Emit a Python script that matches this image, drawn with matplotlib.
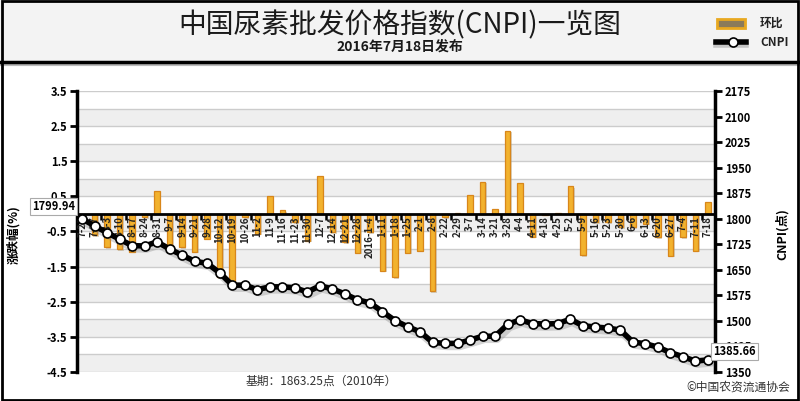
import numpy as np
import matplotlib
matplotlib.use('Agg')
import matplotlib.pyplot as plt
from matplotlib.patches import Rectangle
from matplotlib.lines import Line2D
import matplotlib.transforms as mtransforms

plt.rcParams['font.family'] = ['Noto Sans CJK SC', 'DejaVu Sans']

# 日期标签(周)
dates = ['7-20', '7-27', '8-3', '8-10', '8-17', '8-24', '8-31', '9-7', '9-14', '9-21',
         '9-28', '10-12', '10-19', '10-26', '11-2', '11-9', '11-16', '11-23', '11-30', '12-7',
         '12-14', '12-21', '12-28', '2016-1-4', '1-11', '1-18', '1-25', '2-1', '2-8', '2-22',
         '2-29', '3-7', '3-14', '3-21', '3-28', '4-4', '4-11', '4-18', '4-25', '5-2',
         '5-9', '5-16', '5-23', '5-30', '6-6', '6-13', '6-20', '6-27', '7-4', '7-11', '7-18']

# 环比 (%)
huanbi = [-0.05, -0.6, -0.95, -1.0, -1.07, -0.1, 0.66, -0.9, -0.95, -1.07,
          -0.7, -1.8, -2.05, -0.1, -0.57, 0.5, 0.11, -0.24, -0.76, 1.09,
          -0.52, -0.8, -1.1, -0.52, -1.62, -1.8, -1.1, -1.05, -2.2, -0.1,
          0.02, 0.54, 0.92, 0.14, 2.37, 0.87, -0.65, -0.02, 0.02, 0.79,
          -1.17, -0.24, -0.24, -0.38, -0.38, -0.28, -0.67, -1.19, -0.67, -1.05, 0.33]

# CNPI 指数 (点)
cnpi = [1799.94, 1779, 1759, 1740, 1721, 1720, 1732, 1711, 1693, 1675,
        1669, 1641, 1605, 1605, 1592, 1600, 1600, 1597, 1585, 1603,
        1594, 1579, 1562, 1553, 1527, 1501, 1483, 1468, 1437, 1434,
        1434, 1444, 1455, 1455, 1490, 1503, 1492, 1491, 1492, 1505,
        1486, 1482, 1479, 1473, 1438, 1433, 1423, 1407, 1395, 1382, 1385.66]

left_ticks = [3.5, 2.5, 1.5, 0.5, -0.5, -1.5, -2.5, -3.5, -4.5]
right_ticks = list(range(1350, 2176, 75))

W, H = 800, 401
fig = plt.figure(figsize=(W / 100, H / 100), dpi=100)
fig.patch.set_facecolor('white')

def fy(y):
    return 1 - y / H

# 标题区背景
fig.add_artist(Rectangle((0, fy(62)), 1, 62 / H, transform=fig.transFigure,
                         facecolor='#f3f3f3', edgecolor='none', zorder=0))
fig.add_artist(Line2D([0, 1], [fy(64), fy(64)], transform=fig.transFigure,
                      color='#bbbbbb', lw=3, zorder=1))
fig.add_artist(Line2D([0, 1], [fy(62), fy(62)], transform=fig.transFigure,
                      color='black', lw=2.5, zorder=2))
fig.add_artist(Rectangle((0.002, 0.003), 0.996, 0.994, transform=fig.transFigure,
                         facecolor='none', edgecolor='black', lw=2, zorder=10))

fig.text(0.5, fy(25), '中国尿素批发价格指数(CNPI)一览图', ha='center', va='center',
         fontsize=20, color='#1a1a1a')
fig.text(0.5, fy(47), '2016年7月18日发布', ha='center', va='center',
         fontsize=10, fontweight='bold', color='#1a1a1a')

# 图例
fig.add_artist(Rectangle((717 / W, fy(28)), 28 / W, 9 / H, transform=fig.transFigure,
                         facecolor='#8a7a5a', edgecolor='#e8a820', lw=2, zorder=3))
fig.text(760 / W, fy(23), '环比', ha='left', va='center', fontsize=8.5,
         fontweight='bold', color='#222222')
fig.add_artist(Line2D([716 / W, 746 / W], [fy(45), fy(45)], transform=fig.transFigure,
                      color='#999999', lw=4, alpha=0.5, zorder=3))
fig.add_artist(Line2D([716 / W, 746 / W], [fy(42), fy(42)], transform=fig.transFigure,
                      color='black', lw=4, zorder=4))
fig.add_artist(Line2D([733 / W], [fy(42)], transform=fig.transFigure, marker='o',
                      ms=6.5, mfc='white', mec='black', mew=1.2, zorder=5))
fig.text(760 / W, fy(42), 'CNPI', ha='left', va='center', fontsize=8.5,
         fontweight='bold', color='#222222')

# 主图
ax = fig.add_axes([77 / W, 1 - 372 / H, (715 - 77) / W, (372 - 91) / H])
x = np.arange(len(dates))
ax.set_xlim(-0.4, len(dates) - 1 + 0.56)
ax.set_ylim(-4.5, 3.5)

for k in np.arange(-4, 4):
    ax.axhspan(k - 0.5, k, color='#efefef', zorder=0, lw=0)
for g in np.arange(-4.5, 3.51, 0.5):
    ax.axhline(g, color='#cccccc', lw=1, zorder=1)

shadow = mtransforms.offset_copy(ax.transData, fig=fig, x=1.5, y=-1.5, units='dots')
ax.bar(x, huanbi, width=0.44, color='#b0a080', alpha=0.45, zorder=2, transform=shadow)
ax.bar(x, huanbi, width=0.44, color='#f2b22e', edgecolor='#d8861a', lw=0.9, zorder=3)

ax.axhline(0, color='black', lw=2, zorder=4)
ax.vlines(np.arange(1.5, len(dates), 2), -0.17, 0, color='black', lw=1.8, zorder=4)

for i, d in enumerate(dates):
    ax.text(i, -0.06, d, rotation=90, ha='center', va='top', fontsize=7,
            fontweight='bold', color='#222222', zorder=5)

ax.set_yticks(left_ticks)
ax.set_yticklabels([f'{t:.1f}' for t in left_ticks], fontsize=8, fontweight='bold')
ax.set_xticks([])
ax.tick_params(axis='y', direction='out', length=5, width=2, pad=2)
for s in ['top', 'bottom', 'right']:
    ax.spines[s].set_visible(False)
ax.spines['left'].set_linewidth(2.5)
ax.set_ylabel('涨跌幅(%)', fontsize=9, fontweight='bold')
ax.yaxis.set_label_coords(-0.089, 0.49)

ax2 = ax.twinx()
ax2.set_ylim(1350, 2175)
ax2.set_yticks(right_ticks)
ax2.set_yticklabels([str(t) for t in right_ticks], fontsize=8, fontweight='bold')
ax2.tick_params(axis='y', direction='out', length=5, width=2, pad=2)
for s in ['top', 'bottom', 'left']:
    ax2.spines[s].set_visible(False)
ax2.spines['right'].set_linewidth(2.5)
ax2.set_ylabel('CNPI(点)', fontsize=9, fontweight='bold')
ax2.yaxis.set_label_coords(1.094, 0.49)

lshadow = mtransforms.offset_copy(ax2.transData, fig=fig, x=2, y=-3, units='dots')
ax2.plot(x, cnpi, color='#888888', lw=5.5, alpha=0.35, transform=lshadow, zorder=5)
ax2.plot(x, cnpi, color='black', lw=4, marker='o', ms=6.5, mfc='white',
         mec='black', mew=1.2, zorder=6)

box = dict(boxstyle='square,pad=0.2', facecolor='white', edgecolor='#aaaaaa', lw=0.8)
ax2.annotate(f'{cnpi[0]:.2f}', xy=(0, cnpi[0]), xytext=(-5, 9), textcoords='offset points',
             ha='right', va='center', fontsize=8, fontweight='bold', bbox=box,
             annotation_clip=False, zorder=7)
ax2.annotate(f'{cnpi[-1]:.2f}', xy=(x[-1], cnpi[-1]), xytext=(4, 6), textcoords='offset points',
             ha='left', va='center', fontsize=8, fontweight='bold', bbox=box,
             annotation_clip=False, zorder=7)

fig.text(321 / W, fy(381), '基期：1863.25点（2010年）', ha='center', va='center',
         fontsize=8.5, color='#333333')
fig.text(790 / W, fy(387), '©中国农资流通协会', ha='right', va='center',
         fontsize=8.5, color='#333333')

fig.savefig('out.png', dpi=100)
